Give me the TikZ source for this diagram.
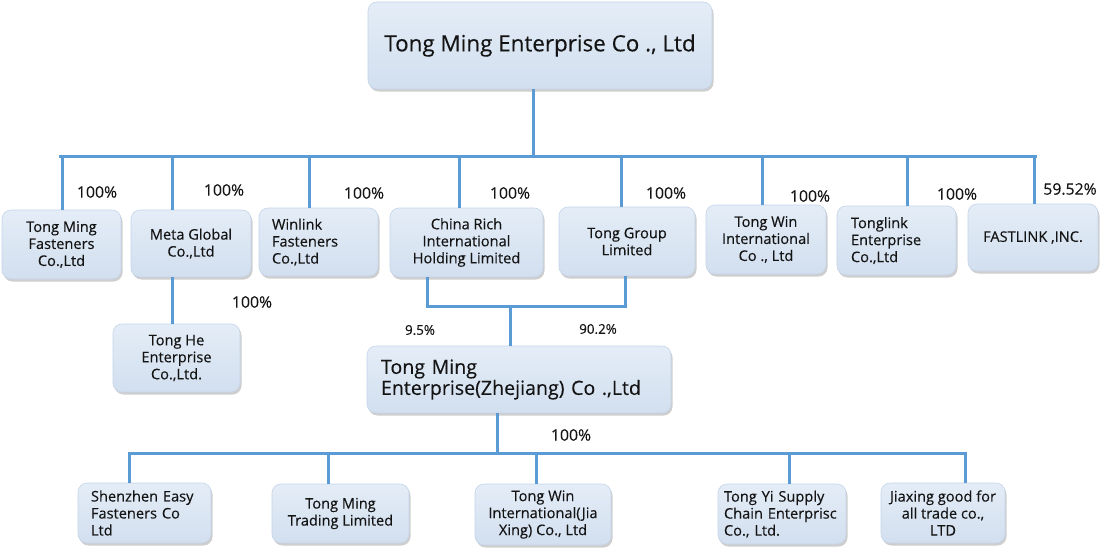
\documentclass[tikz,border=0pt]{standalone}
\usepackage{fontspec}
\setmainfont{Open Sans}[FakeBold=0.3]
\usepackage{tikz}
\usetikzlibrary{calc,shadows}

\definecolor{linkblue}{RGB}{91,155,213}
\definecolor{boxtop}{RGB}{228,237,247}
\definecolor{boxbot}{RGB}{210,223,239}
\definecolor{boxline}{RGB}{196,212,232}
\definecolor{txt}{RGB}{20,20,20}
\hyphenpenalty=10000
\exhyphenpenalty=10000

\begin{document}
\begin{tikzpicture}[x=1pt,y=-1pt,
    box/.style={draw=boxline, line width=0.6pt, rounded corners=9pt,
        top color=boxtop, bottom color=boxbot, text=txt, inner sep=0pt,
        drop shadow={shadow xshift=1.5pt, shadow yshift=-2.5pt, opacity=0.35, fill=black!55},
        font=\fontsize{14.6}{17}\selectfont},
    ctr/.style={box, align=center},
    lft/.style={box, align=left},
    link/.style={draw=linkblue, line width=3pt},
    pct/.style={text=txt, inner sep=0pt, font=\fontsize{15.8}{18}\selectfont},
    spct/.style={text=txt, inner sep=0pt, font=\fontsize{13.4}{15}\selectfont}]
    \useasboundingbox (0,0) rectangle (1100,549);

    % 方框
    \node[ctr, minimum width=344pt, minimum height=87pt, font=\fontsize{22.4}{24}\selectfont] (top) at (540,45.5) {Tong Ming Enterprise Co ., Ltd};
    \node[ctr, minimum width=119pt, minimum height=69pt] (tmf) at (61.5,244.5) {Tong Ming\\Fasteners\\Co.,Ltd};
    \node[ctr, minimum width=120pt, minimum height=67pt] (meta) at (191,243.5) {Meta Global\\Co.,Ltd};
    \node[lft, minimum width=119pt, minimum height=68pt, text width=93pt] (win) at (318.5,242) {Winlink\\Fasteners\\Co.,Ltd};
    \node[ctr, minimum width=153pt, minimum height=69pt] (cri) at (466.5,242.5) {China Rich\\International\\Holding Limited};
    \node[ctr, minimum width=136pt, minimum height=69pt] (tgl) at (627,241.5) {Tong Group\\Limited};
    \node[ctr, minimum width=120pt, minimum height=69pt] (twi) at (766,239.5) {Tong Win\\International\\Co ., Ltd};
    \node[lft, minimum width=119pt, minimum height=69pt, text width=91pt] (tlk) at (896.5,240.5) {Tonglink\\Enterprise\\Co.,Ltd};
    \node[ctr, minimum width=130pt, minimum height=67pt] (fst) at (1033,237.5) {FASTLINK ,INC.};
    \node[ctr, minimum width=127pt, minimum height=68pt] (the) at (176.5,358) {Tong He\\Enterprise\\Co.,Ltd.};
    \node[lft, minimum width=304pt, minimum height=67pt, text width=276pt, font=\fontsize{19.6}{21}\selectfont] (zj) at (519,379.5) {Tong Ming\\Enterprise(Zhejiang) Co .,Ltd};
    \node[lft, minimum width=133pt, minimum height=60pt, text width=107pt] (sz) at (144.5,513) {Shenzhen Easy\\Fasteners Co\\Ltd};
    \node[ctr, minimum width=137pt, minimum height=59pt] (tmt) at (340.5,513.5) {Tong Ming\\Trading Limited};
    \node[ctr, minimum width=136pt, minimum height=61pt] (twj) at (543,514.5) {Tong Win\\International(Jia\\Xing) Co., Ltd};
    \node[lft, minimum width=128pt, minimum height=60pt, text width=116pt, inner xsep=6pt] (tyi) at (782,514) {Tong Yi Supply\\Chain Enterprisc\\Co., Ltd.};
    \node[ctr, minimum width=124pt, minimum height=60pt] (jx) at (943,513) {Jiaxing good for\\all trade co.,\\LTD};

    % 画线
    \coordinate (t0) at (533,156);
    \coordinate (busL) at (60,156);
    \coordinate (busR) at (1035,156);
    \draw[link] (t0 |- top.south) -- (t0);
    \draw[link, line cap=rect] (busL) -- (busR);
    \foreach \x/\n in {62/tmf, 172/meta, 309/win, 459/cri, 621/tgl, 762/twi, 907/tlk, 1034/fst} {
        \coordinate (d\n) at (\x,156);
        \draw[link] (d\n) -- (d\n |- \n.north);
    }
    \coordinate (mx) at (172,300);
    \draw[link] (mx |- meta.south) -- (mx |- the.north);
    \coordinate (ja) at (427,306);
    \coordinate (jb) at (625,306);
    \coordinate (jm) at (510,306);
    \draw[link] (ja |- cri.south) -- (ja) -- (jb) -- (jb |- tgl.south);
    \draw[link] (jm) -- (jm |- zj.north);
    \coordinate (zb) at (497,453);
    \coordinate (bus2L) at (129,453);
    \coordinate (bus2R) at (965,453);
    \draw[link] (zb |- zj.south) -- (zb);
    \draw[link, line cap=rect] (bus2L) -- (bus2R);
    \foreach \x/\n in {129/sz, 328/tmt, 536/twj, 789/tyi, 965/jx} {
        \coordinate (e\n) at (\x,453);
        \draw[link] (e\n) -- (e\n |- \n.north);
    }

    % 标注比例
    \node[pct] (p1) at (97,192) {100\%};
    \node[pct] (p2) at (224,190) {100\%};
    \node[pct] (p3) at (364,193) {100\%};
    \node[pct] (p4) at (510,193) {100\%};
    \node[pct] (p5) at (666,193) {100\%};
    \node[pct] (p6) at (810,196) {100\%};
    \node[pct] (p7) at (957,194) {100\%};
    \node[pct] (p8) at (1070,189) {59.52\%};
    \node[pct] (p9) at (252,302) {100\%};
    \node[spct] (p10) at (420,330) {9.5\%};
    \node[spct] (p11) at (598,329) {90.2\%};
    \node[pct] (p12) at (571,435) {100\%};
\end{tikzpicture}
\end{document}
